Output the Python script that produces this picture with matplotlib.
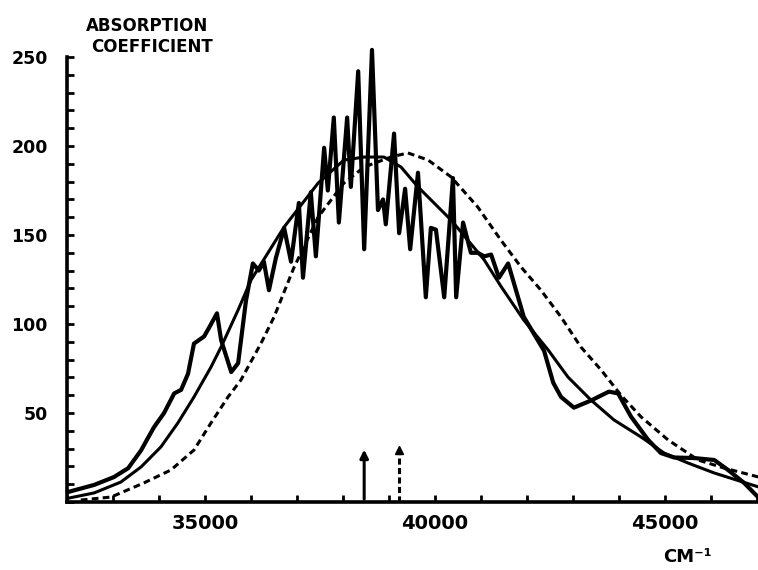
#Absorption band: measured spectrum vs two smooth band shapes

import matplotlib
matplotlib.use("Agg")
import matplotlib.pyplot as plt
from matplotlib.ticker import MultipleLocator

# measured spectrum (thick jagged line), wavenumber in cm-1
x_meas = [32020, 32590, 33020, 33330, 33610, 33760, 33890, 34110, 34330, 34480,
          34630, 34760, 34980, 35090, 35260, 35350, 35570, 35720, 35890, 36040,
          36170, 36280, 36390, 36540, 36720, 36870, 37040, 37130, 37300, 37410,
          37590, 37670, 37800, 37910, 38090, 38170, 38330, 38460, 38630, 38760,
          38870, 38930, 39110, 39220, 39350, 39460, 39630, 39800, 39910, 40020,
          40200, 40390, 40460, 40610, 40780, 40930, 41070, 41220, 41390, 41590,
          41930, 42370, 42570, 42740, 43020, 43390, 43780, 43980, 44260, 44630,
          44910, 45200, 45630, 46070, 46370, 46720, 47020]
y_meas = [5.6, 9.6, 14, 19, 29, 36, 42, 50, 61, 63,
          72, 89, 93, 98, 106, 91, 73, 78, 113, 134,
          130, 135, 119, 137, 154, 135, 168, 126, 174, 138,
          199, 175, 216, 157, 216, 177, 242, 142, 254, 164,
          170, 156, 207, 151, 176, 142, 185, 115, 154, 153,
          115, 182, 115, 157, 140, 140, 138, 139, 126, 134,
          104, 85, 67, 59, 53, 57, 62, 61, 48, 35,
          27.5, 25, 24.7, 23.6, 18, 10.7, 2.8]

# smooth solid band shape
x_fit1 = [32040, 32590, 33170, 33610, 34040, 34410, 34760, 35130, 35350, 35720,
          36000, 36720, 37460, 38020, 38460, 38890, 39260, 39630, 40350, 41070,
          41430, 41930, 42460, 42890, 43390, 43890, 44480, 44980, 45500, 46070, 47040]
y_fit1 = [2.2, 5.1, 11.2, 19.7, 30.9, 44.4, 59, 75.8, 87.1, 107.9,
          124.7, 154.5, 179.2, 192.1, 193.8, 193.8, 188.2, 177, 158.4, 136,
          121.3, 102.2, 85.4, 70.2, 57.3, 46.1, 36.5, 27.5, 21.9, 16.3, 8.4]

# dashed band shape
x_fit2 = [32300, 32960, 33670, 34260, 34760, 35130, 35500, 35780, 36220, 36500,
          36930, 37460, 38020, 38460, 39040, 39410, 39850, 40350, 40930, 41430,
          41870, 42300, 42740, 43170, 43610, 44040, 44480, 45070, 45720, 46280, 47040]
y_fit2 = [1.1, 2.8, 10.7, 18, 29.2, 44.4, 59, 68.5, 89.3, 103.9,
          131.5, 160.1, 179.2, 188.2, 193.8, 196.1, 192.1, 182.6, 165.7, 147.2,
          132, 119.1, 103.9, 87.1, 74.2, 60.1, 47.8, 34.8, 23.6, 19.1, 14]

# band centres marked with arrows
arrow_x = [38460, 39220]
arrow_top = [31, 32]

fig = plt.figure(figsize=(7.58, 5.70), dpi=100)
ax = fig.add_axes([0.0884, 0.1193, 0.9103, 0.7807])

ax.plot(x_meas, y_meas, color="black", lw=3.0, solid_joinstyle="round", clip_on=False)
ax.plot(x_fit1, y_fit1, color="black", lw=2.2, clip_on=False)
ax.plot(x_fit2, y_fit2, color="black", lw=2.2, linestyle=(0, (2.2, 1.4)), clip_on=False)

#arrows
ax.annotate("", xy=(arrow_x[0], arrow_top[0]), xytext=(arrow_x[0], 0),
            arrowprops=dict(arrowstyle="-|>", color="black", lw=2.2, mutation_scale=12))
ax.plot([arrow_x[1], arrow_x[1]], [0, arrow_top[1] - 4], color="black", lw=2.2,
        linestyle=(0, (2.0, 1.1)))
ax.plot([arrow_x[1]], [arrow_top[1] - 3], marker="^", color="black", markersize=6)

ax.set_xlim(32000, 47000)
ax.set_ylim(0, 250)

#axes styling
for s in ["top", "right"]:
    ax.spines[s].set_visible(False)
for s in ["left", "bottom"]:
    ax.spines[s].set_linewidth(2.6)

ax.xaxis.set_major_locator(MultipleLocator(5000))
ax.xaxis.set_minor_locator(MultipleLocator(1000))
ax.yaxis.set_major_locator(MultipleLocator(50))
ax.yaxis.set_minor_locator(MultipleLocator(10))
ax.set_yticks([50, 100, 150, 200, 250])
ax.set_xticks([35000, 40000, 45000])
ax.tick_params(axis="both", which="both", direction="in", width=2, length=5)
ax.tick_params(axis="y", which="major", pad=14, labelsize=12.5)
ax.tick_params(axis="x", which="major", pad=9, labelsize=14)
for lab in ax.get_xticklabels() + ax.get_yticklabels():
    lab.set_fontweight("bold")

fig.text(0.113, 0.955, "ABSORPTION", fontsize=12, fontweight="bold", va="center", ha="left")
fig.text(0.120, 0.917, "COEFFICIENT", fontsize=12, fontweight="bold", va="center", ha="left")
fig.text(0.907, 0.022, "CM\u207b\u00b9", fontsize=13, fontweight="bold", va="center", ha="center")

fig.savefig("out.png", dpi=100)
